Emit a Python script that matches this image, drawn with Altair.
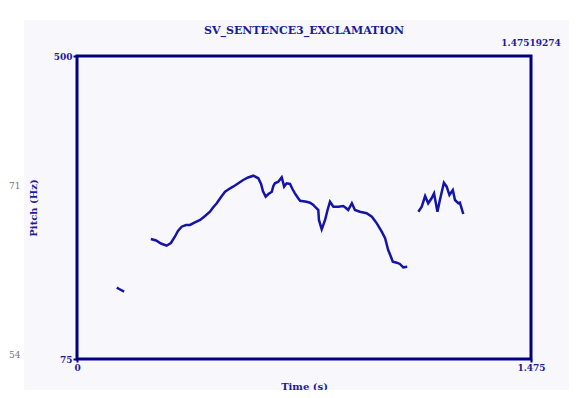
import altair as alt
import pandas as pd

# ---- data ----
seg1_t = [0.129, 0.140, 0.153]
seg1_hz = [175.0, 172.5, 169.4]

seg2_t = [0.240, 0.257, 0.273, 0.291, 0.305, 0.318, 0.328, 0.340, 0.354, 0.367,
          0.383, 0.400, 0.416, 0.432, 0.442, 0.454, 0.468, 0.481, 0.494, 0.507,
          0.523, 0.540, 0.556, 0.573, 0.589, 0.598, 0.604, 0.613, 0.622, 0.633,
          0.638, 0.643, 0.654, 0.665, 0.673, 0.681, 0.692, 0.700, 0.708, 0.718,
          0.725, 0.746, 0.757, 0.768, 0.773, 0.784, 0.786, 0.795, 0.806, 0.814,
          0.822, 0.833, 0.849, 0.865, 0.874, 0.881, 0.893, 0.903, 0.919, 0.941,
          0.958, 0.974, 0.990, 1.001, 1.011, 1.019, 1.026, 1.039, 1.049, 1.060,
          1.073]
seg2_hz = [243.3, 241.2, 237.0, 233.9, 237.7, 246.5, 254.5, 260.6, 263.0, 263.0,
           266.5, 270.0, 275.6, 281.6, 287.5, 293.4, 302.2, 309.7, 313.4, 316.7,
           321.2, 326.1, 329.6, 332.1, 328.5, 320.5, 310.6, 302.6, 306.4, 309.7,
           317.7, 321.4, 323.7, 329.9, 316.7, 321.4, 320.5, 313.4, 307.4, 300.8,
           297.0, 295.6, 294.2, 291.0, 288.6, 284.0, 270.0, 256.9, 270.0, 284.0,
           295.6, 288.6, 288.6, 289.6, 286.8, 284.0, 293.4, 284.0, 281.6, 279.4,
           274.6, 265.3, 253.6, 244.3, 227.9, 219.5, 211.5, 210.1, 208.3, 203.6,
           204.5]

seg3_t = [1.109, 1.120, 1.131, 1.141, 1.152, 1.160, 1.171, 1.179, 1.192, 1.201,
          1.210, 1.221, 1.228, 1.239, 1.244, 1.255]
seg3_hz = [281.6, 288.6, 303.6, 293.4, 300.4, 307.4, 281.6, 298.0, 322.3, 316.7,
           305.0, 312.0, 298.0, 293.4, 294.2, 278.4]

x_ticks = [0, 1.475]
y_ticks = [75, 500]
x_domain = [0, 1.475]
y_domain = [75, 500]
title_text = "SV_SENTENCE3_EXCLAMATION"
end_time_label = "1.47519274"
end_time_value = 1.47519274
side_labels = ["71", "54"]

rows = []
for name, ts, hs in (("s1", seg1_t, seg1_hz), ("s2", seg2_t, seg2_hz), ("s3", seg3_t, seg3_hz)):
    for t, h in zip(ts, hs):
        rows.append({"time": t, "pitch": h, "segment": name})
df = pd.DataFrame(rows)

NAVY = "#000080"
TEXT = "#1a1a9e"
FONT = "DejaVu Serif"
W, H = 454, 303

xscale = alt.Scale(domain=x_domain, nice=False, zero=False)
yscale = alt.Scale(domain=y_domain, nice=False, zero=False)

one = alt.Data(values=[{}])

bg = alt.Chart(one).mark_rect(color="#f8f8fc").encode(
    x=alt.value(-53), x2=alt.value(W + 60), y=alt.value(-36), y2=alt.value(H + 60)
)

frame = alt.Chart(one).mark_rect(filled=False, color=NAVY, strokeWidth=3).encode(
    x=alt.value(0), x2=alt.value(W), y=alt.value(0), y2=alt.value(H)
)

line = alt.Chart(df).mark_line(color="#1414a8", strokeWidth=2.5).encode(
    x=alt.X("time:Q", scale=xscale,
            axis=alt.Axis(values=x_ticks, title="Time (s)",
                          labelExpr="datum.value == 0 ? '0' : format(datum.value, '.3f')",
                          titleX=W / 2, titleY=27, titleBaseline="middle",
                          labelPadding=1, tickSize=3, labelFlush=False, zindex=2)),
    y=alt.Y("pitch:Q", scale=yscale,
            axis=alt.Axis(values=y_ticks, title="Pitch (Hz)",
                          titleX=-44, titleY=H / 2, titleAngle=270,
                          titleAlign="center", titleBaseline="middle",
                          labelPadding=1, tickSize=4, labelFlush=False, zindex=2)),
    detail="segment:N",
)

title = alt.Chart(alt.Data(values=[{"label": title_text}])).mark_text(
    font=FONT, fontWeight="bold", fontSize=11, color=TEXT, align="center", baseline="middle"
).encode(x=alt.value(W / 2), y=alt.value(-25), text="label:N")

end_lbl = alt.Chart(alt.Data(values=[{"t": end_time_value, "label": end_time_label}])).mark_text(
    font=FONT, fontWeight="bold", fontSize=9, color=TEXT, align="center", baseline="middle"
).encode(x=alt.X("t:Q", scale=xscale), y=alt.value(-13), text="label:N")

side = alt.Chart(alt.Data(values=[{"label": side_labels[0], "yy": 130},
                                  {"label": side_labels[1], "yy": 299}])).mark_text(
    font=FONT, fontSize=9, color="#777777", align="left", baseline="middle"
).encode(x=alt.value(-68), y=alt.Y("yy:Q", scale=None), text="label:N")

chart = alt.layer(bg, frame, line, title, end_lbl, side).properties(
    width=W, height=H,
    autosize="none",
    padding={"left": 69, "top": 48, "right": 38, "bottom": 31},
    background="white",
).configure_view(
    stroke=None
).configure_axis(
    grid=False, domain=False, tickColor=NAVY, tickWidth=2,
    labelFont=FONT, labelFontWeight="bold", labelFontSize=9, labelColor=TEXT,
    titleFont=FONT, titleFontWeight="bold", titleFontSize=10, titleColor=TEXT,
)

chart.save("out.html", embed_options={"renderer": "svg", "actions": False})
